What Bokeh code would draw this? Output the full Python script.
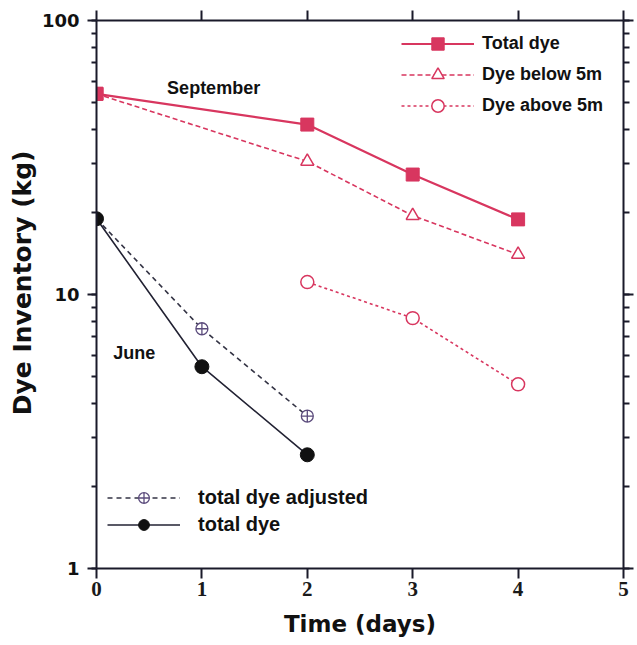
from bokeh.plotting import figure
from bokeh.models import (LogAxis, LinearAxis, Legend, LegendItem, Label, Title,
                          FixedTicker, LogTicker, Range1d, PrintfTickFormatter,
                          CustomLabelingPolicy)
from bokeh.embed import file_html
from bokeh.resources import INLINE

# September data
sep_days = [0, 2, 3, 4]
sep_total = [54.0, 41.7, 27.4, 18.8]
sep_below_days = [0, 2, 3, 4]
sep_below = [54.0, 30.6, 19.4, 14.0]
sep_above_days = [2, 3, 4]
sep_above = [11.1, 8.2, 4.7]

# June data
jun_days = [0, 1, 2]
jun_total = [18.9, 5.45, 2.6]
jun_adjusted = [18.9, 7.5, 3.6]

x_ticks = [0, 1, 2, 3, 4, 5]

RED = "#d8365f"
BLACK = "#111111"
PURPLE = "#5b4b7c"
AX = "#1a1a2a"
TXT = "#111111"
SANS = "Liberation Sans"
WIDE = "DejaVu Sans"
SERIF = "Liberation Serif"

p = figure(width=637, height=645, y_axis_type="log",
           x_range=Range1d(0, 5), y_range=Range1d(1, 100),
           output_backend="svg", toolbar_location=None,
           min_border_left=96, min_border_top=20, min_border_right=0,
           min_border_bottom=77)
p.background_fill_color = "white"
p.border_fill_color = "white"
p.outline_line_color = None
p.xgrid.visible = False
p.ygrid.visible = False

no_labels = CustomLabelingPolicy(code="return null")

# Bottom axis
for ax in p.xaxis:
    ax.ticker = FixedTicker(ticks=x_ticks)
    ax.major_tick_out = 10
    ax.major_tick_in = 0
    ax.minor_tick_out = 0
    ax.axis_line_width = 2
    ax.major_tick_line_width = 2
    ax.axis_line_color = AX
    ax.major_tick_line_color = AX
    ax.major_label_text_font = SERIF
    ax.major_label_text_font_style = "bold"
    ax.major_label_text_font_size = "21px"
    ax.major_label_text_color = "#1a1a1a"
    ax.major_label_standoff = 3
    ax.axis_label = "Time (days)"
    ax.axis_label_text_font = WIDE
    ax.axis_label_text_font_style = "bold"
    ax.axis_label_text_font_size = "23px"
    ax.axis_label_text_color = TXT
    ax.axis_label_standoff = 12

# Left axis
for ax in p.yaxis:
    ax.ticker = LogTicker(num_minor_ticks=10)
    ax.formatter = PrintfTickFormatter(format="%d")
    ax.major_tick_out = 9
    ax.major_tick_in = 0
    ax.minor_tick_out = 5
    ax.minor_tick_in = 0
    ax.axis_line_width = 2
    ax.major_tick_line_width = 2
    ax.minor_tick_line_width = 2
    ax.axis_line_color = AX
    ax.major_tick_line_color = AX
    ax.minor_tick_line_color = AX
    ax.major_label_text_font = WIDE
    ax.major_label_text_font_style = "bold"
    ax.major_label_text_font_size = "18px"
    ax.major_label_text_color = TXT
    ax.major_label_standoff = 8

# Y axis title, placed on the left side
p.add_layout(Title(text="Dye Inventory (kg)", align="right", offset=130,
                   text_font=WIDE, text_font_style="bold",
                   text_font_size="25px", text_color=TXT,
                   standoff=4), "left")

# Right axis (ticks only)
right = LogAxis(ticker=LogTicker(num_minor_ticks=10),
                major_label_policy=no_labels)
right.major_tick_out = 10
right.major_tick_in = 0
right.minor_tick_out = 6
right.minor_tick_in = 0
right.axis_line_width = 2
right.major_tick_line_width = 2
right.minor_tick_line_width = 2
right.axis_line_color = AX
right.major_tick_line_color = AX
right.minor_tick_line_color = AX
right.major_label_text_font_size = "1px"
right.major_label_standoff = 0
p.add_layout(right, "right")

# Top axis (ticks only)
top = LinearAxis(ticker=FixedTicker(ticks=x_ticks),
                 major_label_policy=no_labels)
top.major_tick_out = 10
top.major_tick_in = 0
top.minor_tick_out = 0
top.axis_line_width = 2
top.major_tick_line_width = 2
top.axis_line_color = AX
top.major_tick_line_color = AX
top.major_label_text_font_size = "1px"
top.major_label_standoff = 0
p.add_layout(top, "above")

# September series
l_tot = p.line(sep_days, sep_total, line_color=RED, line_width=2.2)
m_tot = p.scatter(sep_days, sep_total, marker="square", size=13,
                  fill_color=RED, line_color=RED)
l_below = p.line(sep_below_days, sep_below, line_color=RED, line_width=1.6,
                 line_dash="5 3")
m_below = p.scatter(sep_below_days[1:], sep_below[1:], marker="triangle",
                    size=13, fill_color="white", line_color=RED, line_width=1.5)
l_above = p.line(sep_above_days, sep_above, line_color=RED, line_width=1.6,
                 line_dash="3 3")
m_above = p.scatter(sep_above_days, sep_above, marker="circle", size=13,
                    fill_color="white", line_color=RED, line_width=1.5)

# June series
l_adj = p.line(jun_days, jun_adjusted, line_color="#333344", line_width=1.6,
               line_dash="5 4")
m_adj = p.scatter(jun_days[1:], jun_adjusted[1:], marker="circle_cross",
                  size=12, fill_color="white", line_color=PURPLE, line_width=1.3)
l_jt = p.line(jun_days, jun_total, line_color="#222233", line_width=1.6)
m_jt = p.scatter(jun_days, jun_total, marker="circle", size=14,
                 fill_color=BLACK, line_color=BLACK)
p.scatter(sep_days[:1], sep_total[:1], marker="square", size=13,
          fill_color=RED, line_color=RED)

leg_top = Legend(items=[
    LegendItem(label="Total dye", renderers=[l_tot, m_tot]),
    LegendItem(label="Dye below 5m", renderers=[l_below, m_below]),
    LegendItem(label="Dye above 5m", renderers=[l_above, m_above]),
], location=(305, 447), glyph_width=73, glyph_height=31, label_height=20,
    spacing=0, padding=0, label_standoff=8, margin=0,
    background_fill_alpha=0, border_line_color=None,
    label_text_font=SANS, label_text_font_style="bold",
    label_text_font_size="18px", label_text_color=TXT)
p.add_layout(leg_top, "center")

leg_bot = Legend(items=[
    LegendItem(label="total dye adjusted", renderers=[l_adj, m_adj]),
    LegendItem(label="total dye", renderers=[l_jt, m_jt]),
], location=(11, 30), glyph_width=73, glyph_height=27, label_height=20,
    spacing=0, padding=0, label_standoff=18, margin=0,
    background_fill_alpha=0, border_line_color=None,
    label_text_font=SANS, label_text_font_style="bold",
    label_text_font_size="20px", label_text_color=TXT)
p.add_layout(leg_bot, "center")

p.add_layout(Label(x=0.67, y=56.5, text="September", text_font=SANS,
                   text_font_style="bold", text_font_size="18px",
                   text_color=TXT, text_baseline="middle"))
p.add_layout(Label(x=0.16, y=6.1, text="June", text_font=SANS,
                   text_font_style="bold", text_font_size="18px",
                   text_color=TXT, text_baseline="middle"))

open("out.html", "w").write(file_html(p, INLINE))
